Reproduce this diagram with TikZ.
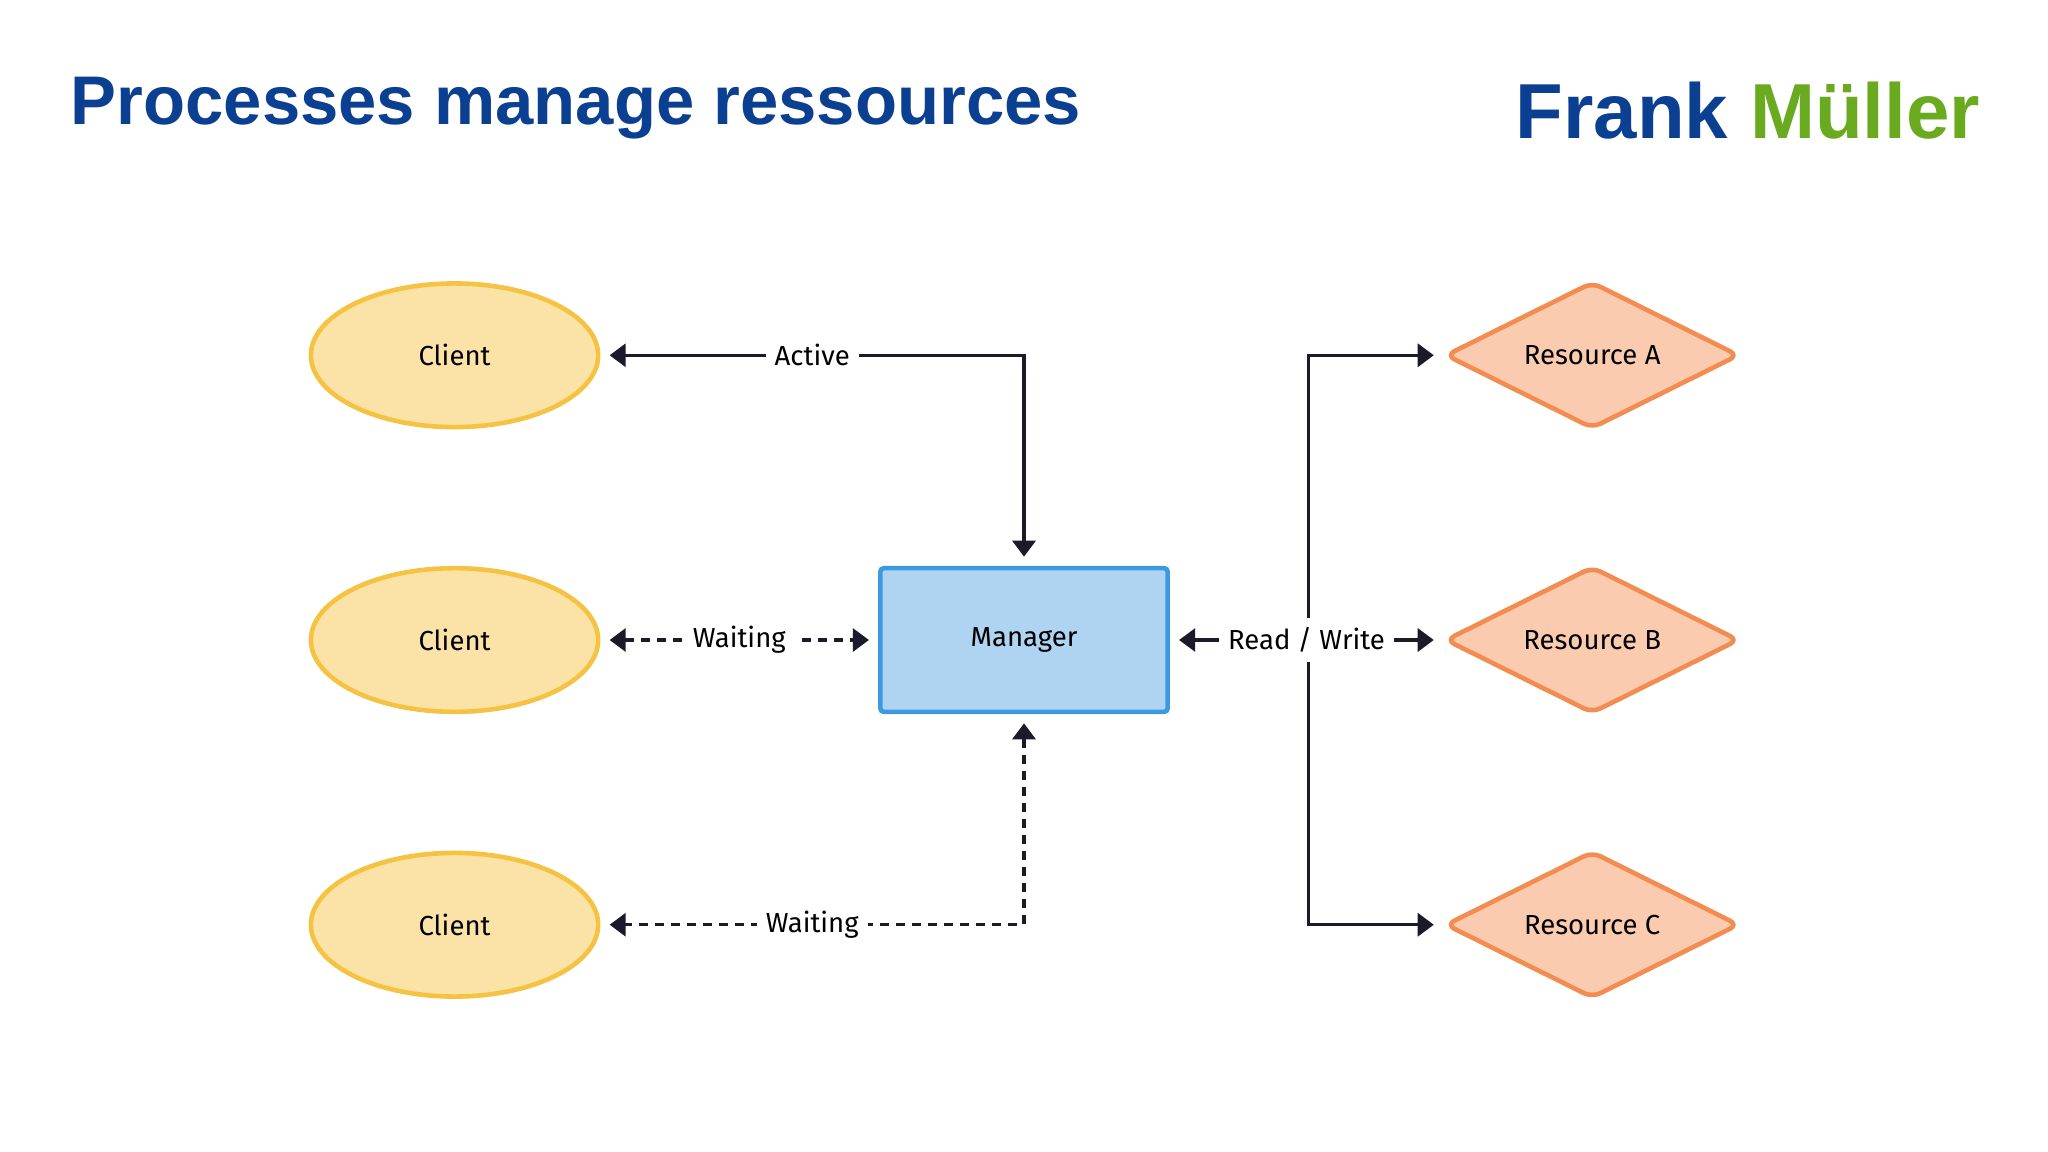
\documentclass[tikz,border=0pt]{standalone}
\usepackage{fontspec}
\setmainfont{Fira Sans}
\newfontfamily\titlefont{Liberation Sans}
\usetikzlibrary{shapes.geometric,arrows.meta}
\definecolor{titleblue}{HTML}{0B3F91}
\definecolor{logogreen}{HTML}{6AAA1E}
\definecolor{clientfill}{HTML}{FBE3A8}
\definecolor{clientdraw}{HTML}{F5C242}
\definecolor{mgrfill}{HTML}{AED4F2}
\definecolor{mgrdraw}{HTML}{3A9BE0}
\definecolor{resfill}{HTML}{FBCBB0}
\definecolor{resdraw}{HTML}{F28C50}
\definecolor{linecol}{HTML}{1A1A2A}
\tikzset{
  client/.style={ellipse,draw=clientdraw,fill=clientfill,line width=2pt,
    minimum width=4.4cm,minimum height=2.2cm,font=\fontsize{12}{14}\selectfont},
  manager/.style={rectangle,draw=mgrdraw,fill=mgrfill,line width=2pt,rounded corners=1.5pt,
    minimum width=4.4cm,minimum height=2.2cm,font=\fontsize{12}{14}\selectfont},
  resource/.style={diamond,aspect=2,draw=resdraw,fill=resfill,line width=2pt,
    rounded corners=4pt,minimum width=4.5cm,minimum height=2.25cm,inner sep=0pt,
    font=\fontsize{12}{14}\selectfont},
  conn/.style={draw=linecol,line width=1.5pt,{Triangle[length=7pt,width=10pt]}-{Triangle[length=7pt,width=10pt]},
    shorten <=4pt,shorten >=4pt},
  branch/.style={draw=linecol,line width=1.5pt,-{Triangle[length=7pt,width=10pt]},shorten >=4pt},
  lbl/.style={fill=white,inner sep=4pt,font=\fontsize{12}{14}\selectfont},
  wait/.style={dash pattern=on 4pt off 3pt}
}
\begin{document}
\begin{tikzpicture}[x=0.02cm,y=-0.02cm]
  \fill[white] (0,0) rectangle (1568,882);
  \useasboundingbox (0,0) rectangle (1568,882);
  % title and logo
  \node[anchor=west,text=titleblue,font=\titlefont\bfseries\fontsize{30}{34}\selectfont] (title) at (48,83) {Processes manage ressources};
  \node[anchor=east,font=\titlefont\bfseries\fontsize{34}{38}\selectfont] (logo) at (1522,85)
    {\textcolor{titleblue}{Frank} \textcolor{logogreen}{Müller}};
  % nodes
  \node[client] (c1) at (348,272) {Client};
  \node[client] (c2) at (348,490) {Client};
  \node[client] (c3) at (348,708) {Client};
  \node[manager] (mgr) at (784,490) {Manager};
  \node[resource] (ra) at (1219,272) {Resource A};
  \node[resource] (rb) at (1219,490) {Resource B};
  \node[resource] (rc) at (1219,708) {Resource C};
  \coordinate (split) at (1002,490);
  % connectors
  \draw[conn] (mgr.north) |- (c1.east) node[lbl,pos=0.75] {Active};
  \draw[conn,wait] (c2.east) -- (mgr.west) node[lbl,midway] {Waiting};
  \draw[conn,wait] (mgr.south) |- (c3.east) node[lbl,pos=0.75] {Waiting};
  \draw[branch] (split) |- (ra.west);
  \draw[branch] (split) |- (rc.west);
  \draw[conn] (mgr.east) -- (rb.west) node[lbl,pos=0.5] {Read / Write};
\end{tikzpicture}
\end{document}
